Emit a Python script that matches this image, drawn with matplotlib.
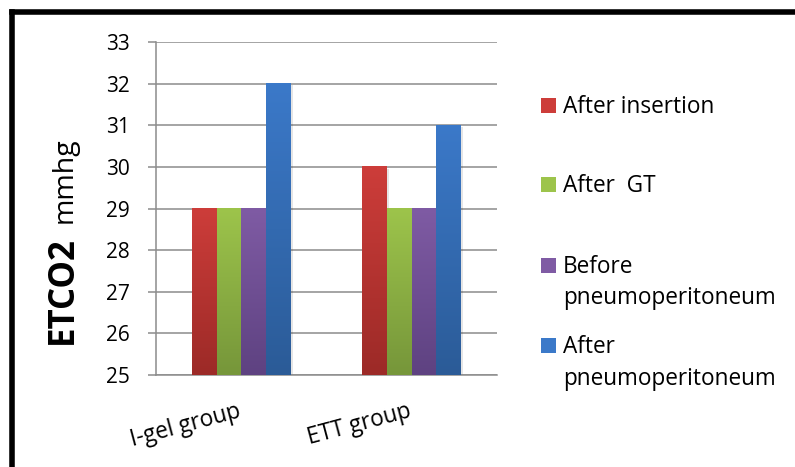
import numpy as np
import matplotlib
matplotlib.use("Agg")
from matplotlib import pyplot as plt
from matplotlib.colors import LinearSegmentedColormap
from matplotlib.lines import Line2D
from matplotlib.patches import Rectangle

plt.rcParams['font.family'] = ['Open Sans', 'DejaVu Sans']

groups = ['I-gel group', 'ETT group']
series = ['After insertion', 'After  GT', 'Before\npneumoperitoneum', 'After\npneumoperitoneum']
values = [
    [29, 30],   # after insertion
    [29, 29],   # after GT
    [29, 29],   # before pneumoperitoneum
    [32, 31],   # after pneumoperitoneum
]
y_ticks = [25, 26, 27, 28, 29, 30, 31, 32, 33]

# top / bottom shade of each series gradient
top_colors = ['#cd3d3a', '#9dc44b', '#7f5ba4', '#3b79c9']
bottom_colors = ['#9c2a27', '#76963a', '#5e4281', '#2b5b97']

W, H = 795, 467
fig = plt.figure(figsize=(W / 100, H / 100), dpi=100)
ax = fig.add_axes([0.1962, 0.197, 0.4290, 0.713])

x = np.arange(len(groups))
bar_w = 0.145
for i, vals in enumerate(values):
    offs = (i - 1.5) * bar_w
    bars = ax.bar(x + offs, np.array(vals) - y_ticks[0], bar_w, bottom=y_ticks[0],
                  color='none', edgecolor='none', zorder=3)
    cmap = LinearSegmentedColormap.from_list('g%d' % i, [bottom_colors[i], top_colors[i]])
    for b in bars:
        x0, y0, w, h = b.get_x(), b.get_y(), b.get_width(), b.get_height()
        # soft shadow to the right of the bar
        ax.add_patch(Rectangle((x0 + 0.012, y0), w, h - 0.04, facecolor='#000000',
                               alpha=0.10, edgecolor='none', zorder=2))
        grad = np.linspace(0, 1, 256).reshape(-1, 1)
        ax.imshow(grad, cmap=cmap, origin='lower', aspect='auto',
                  extent=(x0, x0 + w, y0, y0 + h), zorder=3)

ax.set_xlim(-0.5, len(groups) - 0.5)
ax.set_ylim(y_ticks[0], y_ticks[-1])
ax.set_yticks(y_ticks)
ax.yaxis.grid(True, color='#8c8c8c', linewidth=1.1, zorder=0)
ax.set_axisbelow(True)
for side in ['top', 'right']:
    ax.spines[side].set_visible(False)
for side in ['left', 'bottom']:
    ax.spines[side].set_color('#8c8c8c')
    ax.spines[side].set_linewidth(1.1)
ax.tick_params(axis='y', length=6, width=1.1, color='#8c8c8c', pad=13, labelsize=15)
ax.tick_params(axis='x', length=0, pad=30, labelsize=16.3)
ax.set_xticks(x)
ax.set_xticklabels(groups, rotation=15, ha='right', va='baseline', rotation_mode='anchor')

# y axis title: bold quantity, regular unit, sharing one baseline
fig.text(72 / W, 1 - 344 / H, 'ETCO2', rotation=90, ha='left', va='baseline',
         rotation_mode='anchor', fontsize=25, fontweight='bold')
fig.text(72 / W, 1 - 223 / H, 'mmhg', rotation=90, ha='left', va='baseline',
         rotation_mode='anchor', fontsize=20.5)

# legend on the right
baselines = [[113], [192], [273, 304], [353, 385]]
for i, label in enumerate(series):
    lines = label.split('\n')
    yb = baselines[i][0]
    fig.patches.append(Rectangle((541 / W, 1 - yb / H), 15 / W, 15 / H,
                                 facecolor=top_colors[i], edgecolor='none',
                                 transform=fig.transFigure, figure=fig))
    for line, yl in zip(lines, baselines[i]):
        fig.text(563 / W, 1 - yl / H, line, ha='left', va='baseline', fontsize=16.3)

# frame lines along the top and left of the figure
fig.add_artist(Line2D([11.5 / W, 11.5 / W], [0, 1 - 12 / H], color='black',
                      linewidth=4, transform=fig.transFigure, solid_capstyle='projecting'))
fig.add_artist(Line2D([11.5 / W, 1], [1 - 12 / H, 1 - 12 / H], color='black',
                      linewidth=4, transform=fig.transFigure, solid_capstyle='projecting'))

fig.savefig('out.png', dpi=100)
